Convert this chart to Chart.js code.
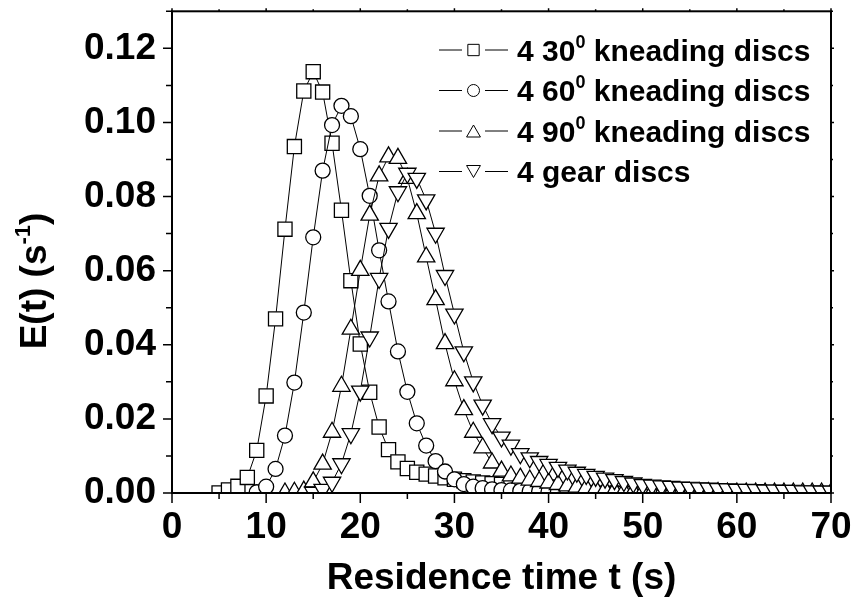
<!DOCTYPE html>
<html>
<head>
<meta charset="utf-8">
<script src="https://cdn.jsdelivr.net/npm/chart.js@4/dist/chart.umd.min.js"></script>
<style>
  html, body { margin: 0; padding: 0; background: #fff; }
  #caixa { width: 858px; height: 603px; }
</style>
</head>
<body>
<div id="caixa"><canvas id="grafico"></canvas></div>
<script>
// tempos de residência (s) comuns a todas as séries
const tempos = [5, 6, 7, 8, 9, 10, 11, 12, 13, 14, 15, 16, 17, 18, 19, 20, 21, 22, 23, 24,
  25, 26, 27, 28, 29, 30, 31, 32, 33, 34, 35, 36, 37, 38, 39, 40, 41, 42, 43, 44,
  45, 46, 47, 48, 49, 50, 51, 52, 53, 54, 55, 56, 57, 58, 59, 60, 61, 62, 63, 64,
  65, 66, 67, 68, 69, 70];

// E(t) em s^-1, alinhado com "tempos" (null = sem ponto)
const serie30 = [0.0000, 0.0008, 0.0018, 0.0042, 0.0115, 0.0262, 0.0470, 0.0712, 0.0935, 0.1085,
  0.1137, 0.1082, 0.0944, 0.0763, 0.0573, 0.0402, 0.0272, 0.0178, 0.0117, 0.0084,
  0.0066, 0.0056, 0.0051, 0.0046, 0.0041, 0.0037, 0.0033, 0.0030, 0.0027, 0.0025,
  0.0023, 0.0021, 0.0019, 0.0018, 0.0017, 0.0016, null, null, null, null,
  null, null, null, null, null, null, null, null, null, null,
  null, null, null, null, null, null, null, null, null, null,
  null, null, null, null, null, null];

const serie60 = [null, null, null, null, 0.0002, 0.0017, 0.0065, 0.0155, 0.0298, 0.0487,
  0.0690, 0.0870, 0.0993, 0.1045, 0.1017, 0.0928, 0.0802, 0.0655, 0.0517, 0.0382,
  0.0273, 0.0188, 0.0128, 0.0086, 0.0058, 0.0037, 0.0024, 0.0017, 0.0013, 0.0010,
  0.0008, 0.0007, 0.0006, 0.0005, 0.0005, 0.0004, 0.0004, 0.0003, 0.0003, 0.0003,
  0.0003, 0.0002, 0.0002, 0.0002, 0.0002, 0.0002, null, null, null, null,
  null, null, null, null, null, null, null, null, null, null,
  null, null, null, null, null, null];

const serie90 = [null, null, null, null, null, null, null, 0.0000, 0.0002, 0.0005,
  0.0030, 0.0078, 0.0164, 0.0288, 0.0442, 0.0601, 0.0750, 0.0856, 0.0907, 0.0903,
  0.0849, 0.0754, 0.0637, 0.0522, 0.0403, 0.0303, 0.0225, 0.0164, 0.0122, 0.0081,
  0.0059, 0.0046, 0.0040, 0.0035, 0.0031, 0.0027, 0.0023, 0.0019, 0.0016, 0.0013,
  0.0010, 0.0008, 0.0006, 0.0004, 0.0003, 0.0002, 0.0002, 0.0001, 0.0001, 0.0001,
  0.0001, 0.0001, 0.0001, 0.0001, 0.0000, 0.0000, 0.0000, 0.0000, 0.0000, 0.0000,
  0.0000, 0.0000, 0.0000, 0.0000, 0.0000, 0.0000];

const serieEngrenagem = [null, null, null, null, null, null, null, null, null, null,
  0.0002, 0.0010, 0.0029, 0.0079, 0.0160, 0.0275, 0.0421, 0.0579, 0.0714, 0.0813,
  0.0863, 0.0849, 0.0791, 0.0701, 0.0587, 0.0483, 0.0381, 0.0300, 0.0237, 0.0187,
  0.0151, 0.0129, 0.0106, 0.0095, 0.0085, 0.0077, 0.0069, 0.0062, 0.0056, 0.0050,
  0.0045, 0.0040, 0.0036, 0.0031, 0.0027, 0.0023, 0.0021, 0.0019, 0.0018, 0.0016,
  0.0015, 0.0014, 0.0013, 0.0012, 0.0011, 0.0010, 0.0010, 0.0009, 0.0008, 0.0008,
  0.0007, 0.0007, 0.0006, 0.0006, 0.0005, 0.0005];

const rotulos = ['4 30^{0} kneading discs', '4 60^{0} kneading discs', '4 90^{0} kneading discs', '4 gear discs'];

const ticksX = [0, 10, 20, 30, 40, 50, 60, 70];
const ticksY = [0, 0.02, 0.04, 0.06, 0.08, 0.10, 0.12];

const FONTE = '"Liberation Sans", Arial, Helvetica, sans-serif';

function pontos(valores) {
  const lista = [];
  tempos.forEach((t, i) => {
    if (valores[i] !== null) lista.push({ x: t, y: valores[i] });
  });
  return lista;
}

// texto com partes ^{...} em sobrescrito
function partesTexto(texto) {
  const partes = [];
  const re = /\^\{([^}]*)\}/g;
  let ultimo = 0, m;
  while ((m = re.exec(texto)) !== null) {
    if (m.index > ultimo) partes.push({ t: texto.slice(ultimo, m.index), sup: false });
    partes.push({ t: m[1], sup: true });
    ultimo = re.lastIndex;
  }
  if (ultimo < texto.length) partes.push({ t: texto.slice(ultimo), sup: false });
  return partes;
}

function escreve(ctx, texto, x, y, tam, alinhar) {
  const partes = partesTexto(texto);
  const tamSup = Math.round(tam * 0.6);
  let largura = 0;
  for (const p of partes) {
    ctx.font = 'bold ' + (p.sup ? tamSup : tam) + 'px ' + FONTE;
    p.w = ctx.measureText(p.t).width;
    largura += p.w;
  }
  let cx = alinhar === 'center' ? x - largura / 2 : x;
  ctx.textBaseline = 'alphabetic';
  ctx.textAlign = 'left';
  for (const p of partes) {
    ctx.font = 'bold ' + (p.sup ? tamSup : tam) + 'px ' + FONTE;
    ctx.fillText(p.t, cx, p.sup ? y - tam * 0.42 : y);
    cx += p.w;
  }
}

const eixosPlugin = {
  id: 'eixos',
  afterDraw(chart) {
    const ctx = chart.ctx;
    const a = chart.chartArea;
    const sx = chart.scales.x, sy = chart.scales.y;
    ctx.save();
    ctx.strokeStyle = '#000';
    ctx.lineWidth = 2;
    ctx.strokeRect(a.left, a.top, a.right - a.left, a.bottom - a.top);

    ctx.beginPath();
    for (let v = 0; v <= 70; v += 5) {
      const px = sx.getPixelForValue(v);
      const maior = v % 10 === 0;
      ctx.moveTo(px, a.bottom);
      ctx.lineTo(px, a.bottom + (maior ? 10 : 6));
      ctx.moveTo(px, a.top);
      ctx.lineTo(px, a.top - (maior ? 3 : 2));
    }
    for (let k = 0; k <= 13; k++) {
      const py = sy.getPixelForValue(k / 100);
      const maior = k % 2 === 0;
      ctx.moveTo(a.left, py);
      ctx.lineTo(a.left - (maior ? 9 : 6), py);
      ctx.moveTo(a.right, py);
      ctx.lineTo(a.right + (maior ? 3 : 2), py);
    }
    ctx.lineWidth = 1.5;
    ctx.stroke();

    // título do eixo Y
    ctx.fillStyle = '#000';
    ctx.save();
    ctx.translate(46, 281);
    ctx.rotate(-Math.PI / 2);
    escreve(ctx, 'E(t) (s^{-1})', 0, 0, 37, 'center');
    ctx.restore();

    // legenda
    const raios = [8, 6, 8, 8];
    chart.data.datasets.forEach((ds, i) => {
      const y = 50 + i * 40.5;
      ctx.strokeStyle = '#000';
      ctx.lineWidth = 1;
      ctx.beginPath();
      ctx.moveTo(439, y); ctx.lineTo(462, y);
      ctx.moveTo(485, y); ctx.lineTo(508, y);
      ctx.stroke();
      ctx.fillStyle = '#fff';
      Chart.helpers.drawPoint(ctx, {
        pointStyle: ds.pointStyle,
        rotation: ds.pointRotation || 0,
        radius: raios[i],
        borderWidth: 1
      }, 473.5, ds.pointRotation ? y - 2 : (ds.pointStyle === 'triangle' ? y + 2 : y));
      ctx.fillStyle = '#000';
      escreve(ctx, ds.label, 517, y + 10.5, 30, 'left');
    });
    ctx.restore();
  }
};

function conjunto(rotulo, valores, estilo, raio, rotacao, ordem) {
  return {
    label: rotulo,
    data: pontos(valores),
    borderColor: '#000',
    borderWidth: 1,
    backgroundColor: '#fff',
    pointStyle: estilo,
    pointRadius: raio,
    pointRotation: rotacao,
    pointBorderWidth: 1.3,
    pointBorderColor: '#000',
    pointBackgroundColor: '#fff',
    tension: 0,
    order: ordem
  };
}

const ctx = document.getElementById('grafico').getContext('2d');
new Chart(ctx, {
  type: 'line',
  data: {
    datasets: [
      conjunto(rotulos[0], serie30, 'rect', 10, 0, 4),
      conjunto(rotulos[1], serie60, 'circle', 7.5, 0, 3),
      conjunto(rotulos[2], serie90, 'triangle', 10, 0, 2),
      conjunto(rotulos[3], serieEngrenagem, 'triangle', 10, 180, 1)
    ]
  },
  options: {
    responsive: true,
    maintainAspectRatio: false,
    animation: false,
    devicePixelRatio: 1,
    layout: { padding: { left: 0, right: 27, top: 11, bottom: 0 } },
    plugins: { legend: { display: false }, tooltip: { enabled: false } },
    scales: {
      x: {
        type: 'linear',
        min: 0,
        max: 70,
        grid: { display: false, drawTicks: false },
        border: { display: false },
        afterBuildTicks: s => { s.ticks = ticksX.map(v => ({ value: v })); },
        afterFit: s => { s.height = 110; s.paddingLeft = 0; s.paddingRight = 0; },
        ticks: {
          color: '#000',
          padding: 13,
          maxRotation: 0,
          autoSkip: false,
          font: { family: FONTE, size: 37, weight: 'bold' }
        },
        title: {
          display: true,
          text: 'Residence time t (s)',
          color: '#000',
          padding: { top: 0, bottom: 2 },
          font: { family: FONTE, size: 37, weight: 'bold' }
        }
      },
      y: {
        type: 'linear',
        min: 0,
        max: 0.13,
        grid: { display: false, drawTicks: false },
        border: { display: false },
        afterBuildTicks: s => { s.ticks = ticksY.map(v => ({ value: v })); },
        afterFit: s => { s.width = 172; s.paddingTop = 0; s.paddingBottom = 0; },
        ticks: {
          color: '#000',
          padding: 16,
          autoSkip: false,
          callback: v => v.toFixed(2),
          font: { family: FONTE, size: 37, weight: 'bold' }
        }
      }
    }
  },
  plugins: [eixosPlugin]
});
</script>
</body>
</html>
